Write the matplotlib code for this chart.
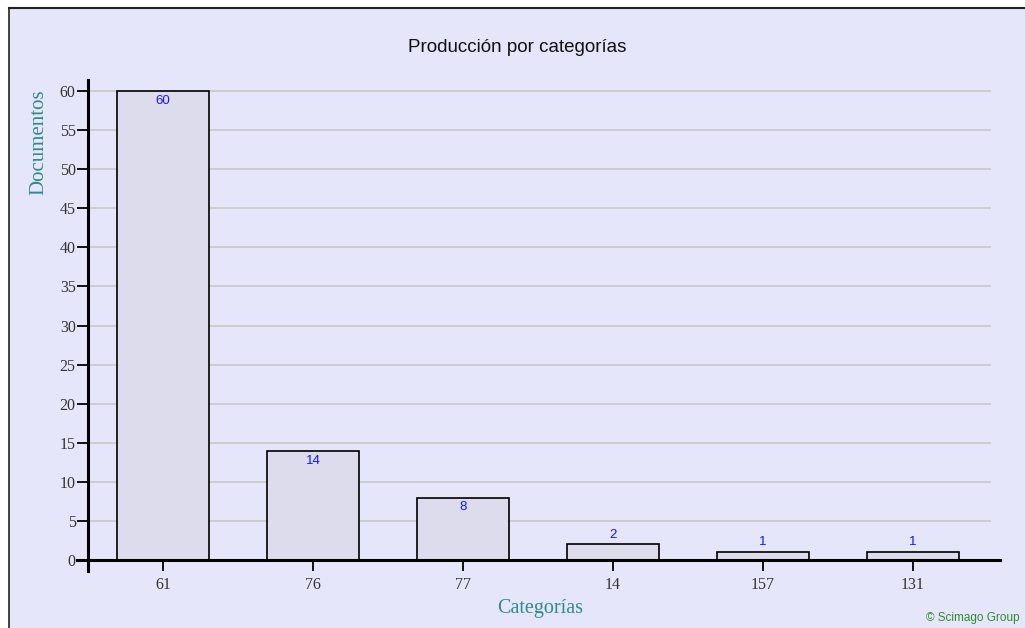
import matplotlib.pyplot as plt
from matplotlib.patches import Rectangle

categories = ["61", "76", "77", "14", "157", "131"]
documents = [60, 14, 8, 2, 1, 1]
y_ticks = list(range(0, 65, 5))

bg = "#E6E6FA"
teal = "#2E8B8B"

fig = plt.figure(figsize=(10.25, 6.28), dpi=100)
fig.patch.set_facecolor("white")
W, H = 1025, 628

# lavender panel with dark border on left/top
fig.patches.append(Rectangle((9 / W, 0), 1 - 9 / W, 1 - 8 / H, transform=fig.transFigure,
                             facecolor=bg, edgecolor="none", zorder=-5))
fig.add_artist(plt.Line2D([9 / W, 9 / W], [0, 1 - 8 / H], color="#222222", lw=1.2, zorder=-4))
fig.add_artist(plt.Line2D([9 / W, 1], [1 - 8 / H, 1 - 8 / H], color="#222222", lw=1.5, zorder=-4))

ax = fig.add_axes([77 / W, 1 - 571 / H, (1000 - 77) / W, (571 - 80) / H])
ax.set_facecolor("none")
ax.set_zorder(2)

x = list(range(len(categories)))
ax.set_xlim(-0.575, 5.58)
ax.set_ylim(-1.4, 61.4)

for v in y_ticks[1:]:
    ax.hlines(v, -0.5, 5.52, color="#C8C8C8", lw=1.2, zorder=1)

ax.bar(x, documents, width=0.613, color="#DCDCEC", edgecolor="black", lw=1.2, zorder=2)

for xi, v in zip(x, documents):
    if v >= 5:
        ax.text(xi, v - 0.5, str(v), ha="center", va="top", color="#1414FF",
                fontsize=9.5, family="Liberation Sans", zorder=3)
    else:
        ax.text(xi, v + 0.5, str(v), ha="center", va="bottom", color="#1414FF",
                fontsize=9.5, family="Liberation Sans", zorder=3)

for s in ["top", "right"]:
    ax.spines[s].set_visible(False)
ax.spines["left"].set_position(("data", -0.5))
ax.spines["bottom"].set_position(("data", 0))
ax.spines["left"].set_linewidth(2.2)
ax.spines["bottom"].set_linewidth(2.2)
ax.spines["left"].set_zorder(4)
ax.spines["bottom"].set_zorder(4)

ax.set_yticks(y_ticks)
ax.set_xticks(x)
ax.set_xticklabels(categories)
ax.tick_params(axis="y", direction="out", length=8, width=1.3, pad=1,
               labelsize=11.5, labelcolor="#333333")
ax.tick_params(axis="x", direction="out", length=8, width=1.3, pad=4,
               labelsize=11.5, labelcolor="#333333")
for lab in ax.get_xticklabels() + ax.get_yticklabels():
    lab.set_family("Liberation Serif")

fig.text(517 / W, 1 - 47 / H, "Producción por categorías", ha="center", va="center",
         fontsize=13.5, family="Liberation Sans", color="#111111")
fig.text(39 / W, 1 - 142 / H, "Documentos", rotation=90, ha="center", va="center",
         fontsize=15, family="Liberation Serif", color=teal)
fig.text(540 / W, 1 - 609 / H, "Categorías", ha="center", va="center",
         fontsize=14.5, family="Liberation Serif", color=teal)
fig.text(1020 / W, 1 - 618 / H, "© Scimago Group", ha="right", va="center",
         fontsize=8.5, family="Liberation Sans", color="#2E8B2E")

fig.savefig("out.png", dpi=100)
